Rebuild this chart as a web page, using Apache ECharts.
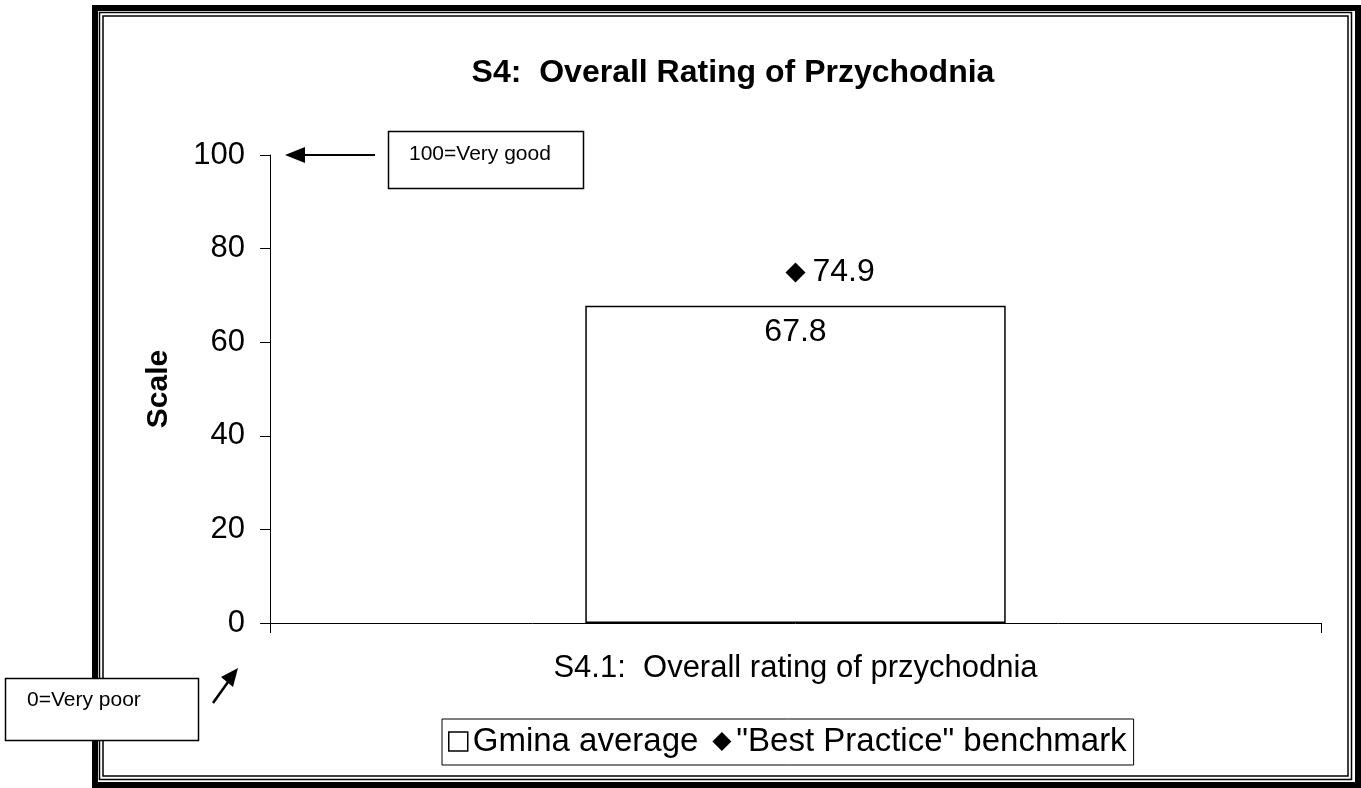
<!DOCTYPE html>
<html>
<head>
<meta charset="utf-8">
<script src="https://cdn.jsdelivr.net/npm/echarts@6/dist/echarts.min.js"></script>
<style>html,body{margin:0;padding:0;background:#fff;}#c{width:1361px;height:788px;}</style>
</head>
<body>
<div id="c"></div>
<script>
var categories = ['S4.1:  Overall rating of przychodnia'];
var gminaAverage = [67.8];
var bestPractice = [74.9];
var yTicks = [0, 20, 40, 60, 80, 100];

var FONT = '"Liberation Sans", Arial, sans-serif';
var chart = echarts.init(document.getElementById('c'));
chart.setOption({
  animation: false,
  backgroundColor: '#fff',
  title: {
    text: 'S4:  Overall Rating of Przychodnia',
    left: 728, top: 52, textAlign: 'center',
    textStyle: {fontFamily: FONT, fontSize: 32, fontWeight: 'bold', color: '#000'}
  },
  grid: {left: 270, right: 40, top: 155, bottom: 165},
  legend: {
    left: 442, top: 719,
    padding: [6, 7, 7, 6],
    borderColor: '#000', borderWidth: 1,
    itemGap: 14, itemWidth: 19, itemHeight: 19,
    textStyle: {fontFamily: FONT, fontSize: 33, color: '#000'},
    data: [
      {name: 'Gmina average', icon: 'rect', itemStyle: {color: '#fff', borderColor: '#000', borderWidth: 1.5, opacity: 1}},
      {name: '"Best Practice" benchmark', icon: 'diamond', itemStyle: {color: '#000', opacity: 1}}
    ]
  },
  xAxis: {
    type: 'category',
    data: categories,
    axisLine: {lineStyle: {color: '#000', width: 1}},
    axisTick: {show: true, length: 10, lineStyle: {color: '#000'}},
    axisLabel: {fontFamily: FONT, fontSize: 31, color: '#000', margin: 30}
  },
  yAxis: {
    type: 'value', min: yTicks[0], max: yTicks[yTicks.length - 1], interval: 20,
    name: 'Scale', nameLocation: 'middle', nameGap: 96, nameRotate: 90,
    nameTextStyle: {fontFamily: FONT, fontSize: 30, fontWeight: 'bold', color: '#000'},
    axisLine: {show: true, lineStyle: {color: '#000', width: 1}},
    axisTick: {show: true, length: 10, lineStyle: {color: '#000'}},
    splitLine: {show: false},
    axisLabel: {fontFamily: FONT, fontSize: 31, color: '#000', margin: 25}
  },
  series: [
    {
      name: 'Gmina average', type: 'bar', data: gminaAverage, barWidth: '40%',
      itemStyle: {color: '#fff', borderColor: '#000', borderWidth: 1.5},
      label: {show: true, position: 'insideTop', distance: 10, fontFamily: FONT, fontSize: 32, color: '#000',
        formatter: function (p) { return p.value.toFixed(1); }}
    },
    {
      name: '"Best Practice" benchmark', type: 'scatter', data: bestPractice,
      symbol: 'diamond', symbolSize: 20, itemStyle: {color: '#000', opacity: 1},
      label: {show: true, position: 'right', distance: 7, fontFamily: FONT, fontSize: 32, color: '#000',
        formatter: function (p) { return p.value.toFixed(1); }}
    }
  ],
  graphic: [
    {type: 'rect', shape: {x: 95, y: 8, width: 1263, height: 777}, style: {fill: 'none', stroke: '#000', lineWidth: 6}, silent: true},
    {type: 'rect', shape: {x: 99.5, y: 12.5, width: 1252, height: 767}, style: {fill: 'none', stroke: '#000', lineWidth: 1.5}, silent: true},
    {type: 'rect', shape: {x: 103, y: 16, width: 1245, height: 760}, style: {fill: 'none', stroke: '#000', lineWidth: 1.5}, silent: true},
    {type: 'rect', shape: {x: 388.5, y: 131.5, width: 195, height: 57}, style: {fill: '#fff', stroke: '#000', lineWidth: 1.5}},
    {type: 'text', x: 409, y: 144, style: {text: '100=Very good', fontFamily: FONT, fontSize: 21, fill: '#000'}},
    {type: 'line', shape: {x1: 300, y1: 155, x2: 375, y2: 155}, style: {stroke: '#000', lineWidth: 2}},
    {type: 'polygon', shape: {points: [[285, 155], [305, 147], [305, 163]]}, style: {fill: '#000'}},
    {type: 'rect', shape: {x: 5.5, y: 678.5, width: 193, height: 62}, style: {fill: '#fff', stroke: '#000', lineWidth: 1.5}},
    {type: 'text', x: 27, y: 690, style: {text: '0=Very poor', fontFamily: FONT, fontSize: 21, fill: '#000'}},
    {type: 'line', shape: {x1: 213, y1: 703, x2: 228, y2: 682}, style: {stroke: '#000', lineWidth: 2.5}},
    {type: 'polygon', shape: {points: [[238, 668], [221, 677], [233, 687]]}, style: {fill: '#000'}}
  ]
});
</script>
</body>
</html>
